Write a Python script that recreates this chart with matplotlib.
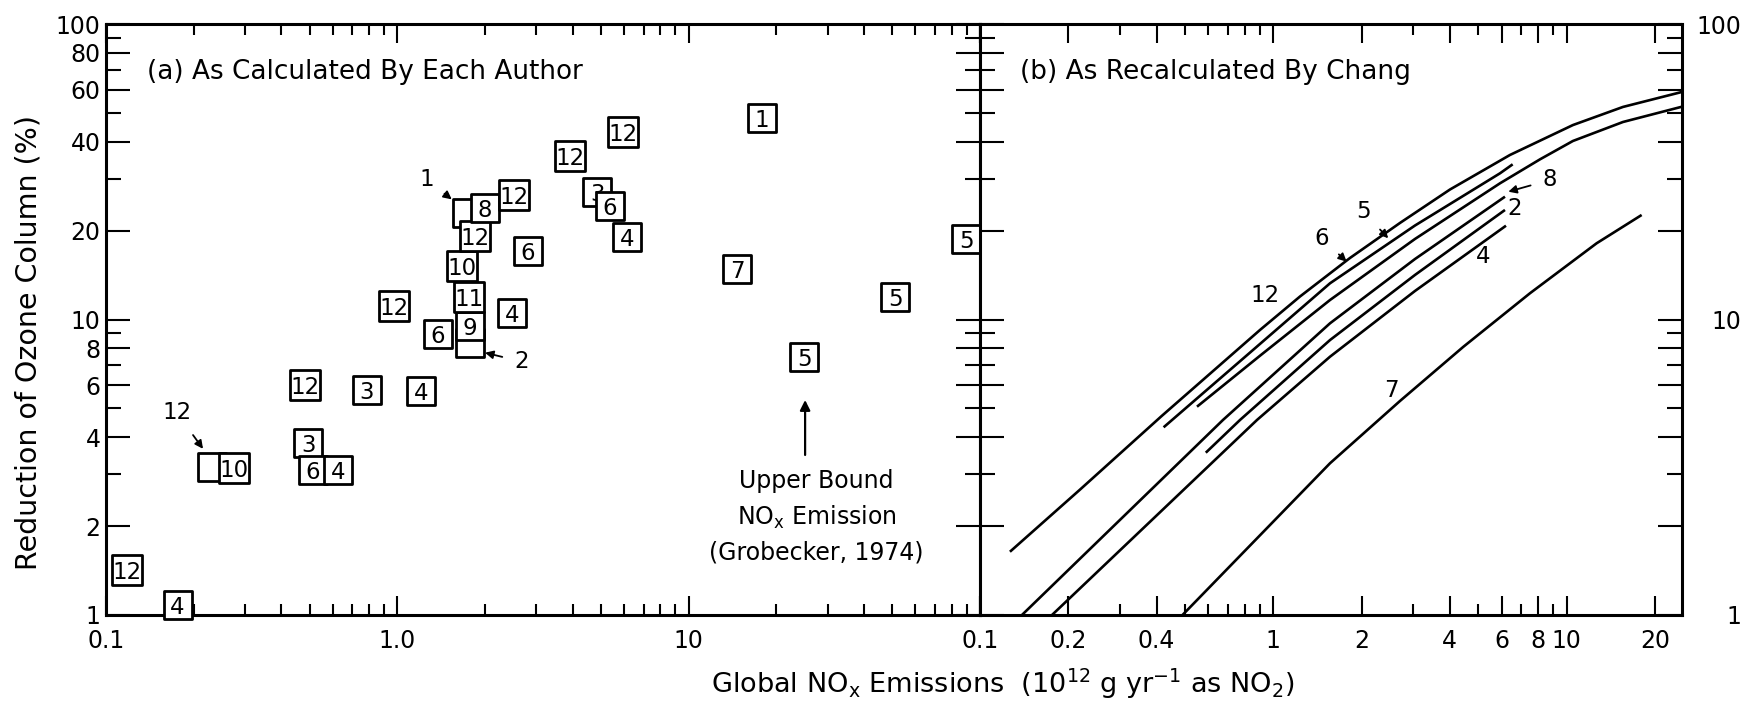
import numpy as np
import matplotlib
matplotlib.use("Agg")
import matplotlib.pyplot as plt
from matplotlib.ticker import NullFormatter

plt.rcParams['font.family'] = ['DejaVu Sans']
plt.rcParams['mathtext.default'] = 'regular'

# ---------------- Panel (a): values as calculated by each author ----------------
a_x = [0.118, 0.176, 0.232, 0.274, 0.494, 0.512, 0.626, 0.481, 0.787, 1.206,
       0.974, 1.376, 1.777, 1.777, 1.762, 1.664, 1.848, 2.00, 1.739, 2.516,
       2.804, 2.477, 3.916, 5.941, 4.850, 5.364, 6.133, 17.87, 14.66, 51.12,
       89.6, 24.96]
a_y = [1.420, 1.081, 3.168, 3.151, 3.820, 3.095, 3.095, 6.002, 5.771, 5.728,
       11.11, 8.95, 9.53, 8.35, 11.92, 15.17, 19.21, 23.84, 22.88, 26.38,
       17.09, 10.52, 35.76, 43.1, 27.07, 24.27, 19.06, 48.08, 14.82, 11.95,
       18.73, 7.47]
a_lab = ["12", "4", "", "10", "3", "6", "4", "12", "3", "4",
         "12", "6", "9", "", "11", "10", "12", "8", "", "12",
         "6", "4", "12", "12", "3", "6", "4", "1", "7", "5",
         "5", "5"]

# ---------------- Panel (b): curves recalculated by Chang ----------------
c12_x = [0.1265, 0.2193, 0.4163, 0.9008, 1.233, 1.826, 2.704, 4.005, 6.412, 10.51, 15.57, 24.75]
c12_y = [1.637, 2.657, 4.714, 9.216, 11.96, 16.15, 21.22, 27.54, 36.04, 45.5, 52.4, 58.9]
c6_x = [0.4227, 0.8329, 1.561, 3.042, 5.929, 6.55]
c6_y = [4.317, 7.727, 13.26, 20.8, 31.24, 33.51]
c5_x = [0.5494, 0.9008, 1.561, 3.042, 5.929, 8.12, 10.51, 15.57, 24.75]
c5_y = [5.069, 7.54, 11.64, 18.73, 28.9, 34.84, 40.19, 46.6, 52.5]
c8_x = [0.139, 0.6737, 1.561, 3.042, 6.166]
c8_y = [1.0, 4.571, 9.708, 16.02, 26.04]
c2_x = [0.5887, 0.7701, 1.561, 3.042, 6.166]
c2_y = [3.542, 4.571, 8.52, 14.15, 23.48]
c4_x = [0.176, 0.880, 1.561, 3.042, 6.215]
c4_y = [1.0, 4.571, 7.483, 12.49, 20.77]
c7_x = [0.4903, 1.561, 2.704, 4.444, 7.503, 12.66, 18.03]
c7_y = [1.0, 3.262, 5.30, 8.08, 12.27, 18.11, 22.58]

# tick values / labels
ya_major = [1, 2, 4, 6, 8, 10, 20, 40, 60, 80, 100]
ya_major_lab = ["1", "2", "4", "6", "8", "10", "20", "40", "60", "80", "100"]
yb_major_lab = ["1", "", "", "", "", "10", "", "", "", "", "100"]
y_minor = [3, 5, 7, 9, 30, 50, 70, 90]
xa_major = [0.1, 1, 10, 100]
xa_major_lab = ["0.1", "1.0", "10", ""]
xa_minor = [m * d for d in (0.1, 1, 10) for m in range(2, 10)]
xb_major = [0.1, 0.2, 0.4, 1, 2, 4, 6, 8, 10, 20]
xb_major_lab = ["0.1", "0.2", "0.4", "1", "2", "4", "6", "8", "10", "20"]
xb_minor = [0.3, 0.5, 0.6, 0.7, 0.8, 0.9, 3, 5, 7, 9]

W, H = 1758, 708
fig = plt.figure(figsize=(W / 100, H / 100), dpi=100)
bot = (H - 615) / H
hgt = (615 - 24) / H
axA = fig.add_axes([106 / W, bot, (980 - 106) / W, hgt])
axB = fig.add_axes([980 / W, bot, (1682 - 980) / W, hgt])

for ax in (axA, axB):
    ax.set_xscale('log')
    ax.set_yscale('log')
    ax.set_ylim(1, 100)
    for s in ax.spines.values():
        s.set_linewidth(2.2)
    ax.set_yticks(ya_major)
    ax.set_yticks(y_minor, minor=True)
    ax.yaxis.set_minor_formatter(NullFormatter())
    ax.tick_params(axis='x', which='major', direction='in', length=14, width=1.5,
                   top=True, bottom=True, labelsize=17, pad=10)
    ax.tick_params(axis='x', which='minor', direction='in', length=8, width=1.5,
                   top=True, bottom=True)
    ax.tick_params(axis='y', which='major', direction='in', length=17, width=1.5,
                   left=True, right=True, labelsize=17)
    ax.tick_params(axis='y', which='minor', direction='in', length=11, width=1.5,
                   left=True, right=True)

axA.set_xlim(0.1, 100)
axB.set_xlim(0.1, 24.75)

axA.set_xticks(xa_major, xa_major_lab)
axA.set_xticks(xa_minor, minor=True)
axA.xaxis.set_minor_formatter(NullFormatter())
axA.set_yticklabels(ya_major_lab)
axA.tick_params(axis='y', labelleft=True, labelright=False, pad=4)

axB.set_xticks(xb_major, xb_major_lab)
axB.set_xticks(xb_minor, minor=True)
axB.xaxis.set_minor_formatter(NullFormatter())
axB.set_yticklabels(yb_major_lab)
axB.tick_params(axis='y', which='major', labelleft=False, labelright=True, pad=43)
for lab in axB.get_yticklabels():
    lab.set_horizontalalignment('right')

# ---------------- draw panel (a) boxes ----------------
order = [i for i, l in enumerate(a_lab) if l == ""] + [i for i, l in enumerate(a_lab) if l != ""]
z = 5
for i in order:
    lab = a_lab[i]
    side_px = 30 if len(lab) == 2 else 28
    side_pt = side_px * 0.72
    axA.scatter([a_x[i]], [a_y[i]], s=side_pt ** 2, marker='s', facecolor='white',
                edgecolor='black', linewidth=2.0, zorder=z, clip_on=False)
    if lab:
        axA.text(a_x[i], a_y[i], lab, ha='center', va='center_baseline', fontsize=16.5,
                 zorder=z + 1, clip_on=False)
    z += 2

arrow_kw = dict(arrowstyle='-|>', color='black', lw=1.3, mutation_scale=12,
                shrinkA=7, shrinkB=0)
axA.annotate("1", xy=(1.538, 25.5), xytext=(1.262, 29.7), ha='center', va='center',
             fontsize=16.5, arrowprops=arrow_kw, zorder=100)
axA.annotate("2", xy=(2.0, 7.72), xytext=(2.673, 7.20), ha='center', va='center',
             fontsize=16.5, arrowprops=arrow_kw, zorder=100)
axA.annotate("12", xy=(0.2153, 3.65), xytext=(0.1752, 4.83), ha='center', va='center',
             fontsize=16.5, arrowprops=arrow_kw, zorder=100)
axA.annotate("", xy=(25.1, 5.34), xytext=(25.1, 3.48),
             arrowprops=dict(arrowstyle='-|>', color='black', lw=1.6, mutation_scale=15,
                             shrinkA=0, shrinkB=0))
axA.text(27.5, 2.15, "Upper Bound\nNO$_{x}$ Emission\n(Grobecker, 1974)",
         ha='center', va='center', fontsize=17, linespacing=1.5)
axA.text(0.047, 0.919, "(a) As Calculated By Each Author", transform=axA.transAxes,
         ha='left', va='center', fontsize=18.9)

# ---------------- draw panel (b) curves ----------------
for cx, cy in ((c12_x, c12_y), (c6_x, c6_y), (c5_x, c5_y), (c8_x, c8_y),
               (c2_x, c2_y), (c4_x, c4_y), (c7_x, c7_y)):
    axB.plot(cx, cy, color='black', lw=1.9, solid_capstyle='butt', solid_joinstyle='round')

axB.text(0.937, 12.1, "12", ha='center', va='center', fontsize=16.5)
axB.annotate("6", xy=(1.779, 15.69), xytext=(1.462, 18.83), ha='center', va='center',
             fontsize=16.5, arrowprops=arrow_kw)
axB.annotate("5", xy=(2.466, 18.83), xytext=(2.027, 23.17), ha='center', va='center',
             fontsize=16.5, arrowprops=arrow_kw)
axB.annotate("8", xy=(6.33, 27.07), xytext=(8.78, 29.66), ha='center', va='center',
             fontsize=16.5, arrowprops=arrow_kw)
axB.text(6.67, 23.78, "2", ha='center', va='center', fontsize=16.5)
axB.text(5.19, 16.31, "4", ha='center', va='center', fontsize=16.5)
axB.text(2.533, 5.77, "7", ha='center', va='center', fontsize=16.5)
axB.text(0.0566, 0.919, "(b) As Recalculated By Chang", transform=axB.transAxes,
         ha='left', va='center', fontsize=19)

# ---------------- axis titles ----------------
fig.text(28.7 / W, 1 - 342 / H, "Reduction of Ozone Column (%)", rotation=90,
         ha='center', va='center', fontsize=20.5)
fig.text(1003 / W, 1 - 684 / H,
         "Global NO$_{x}$ Emissions  (10$^{12}$ g yr$^{-1}$ as NO$_{2}$)",
         ha='center', va='center', fontsize=19.5)

fig.savefig("out.png", dpi=100)
